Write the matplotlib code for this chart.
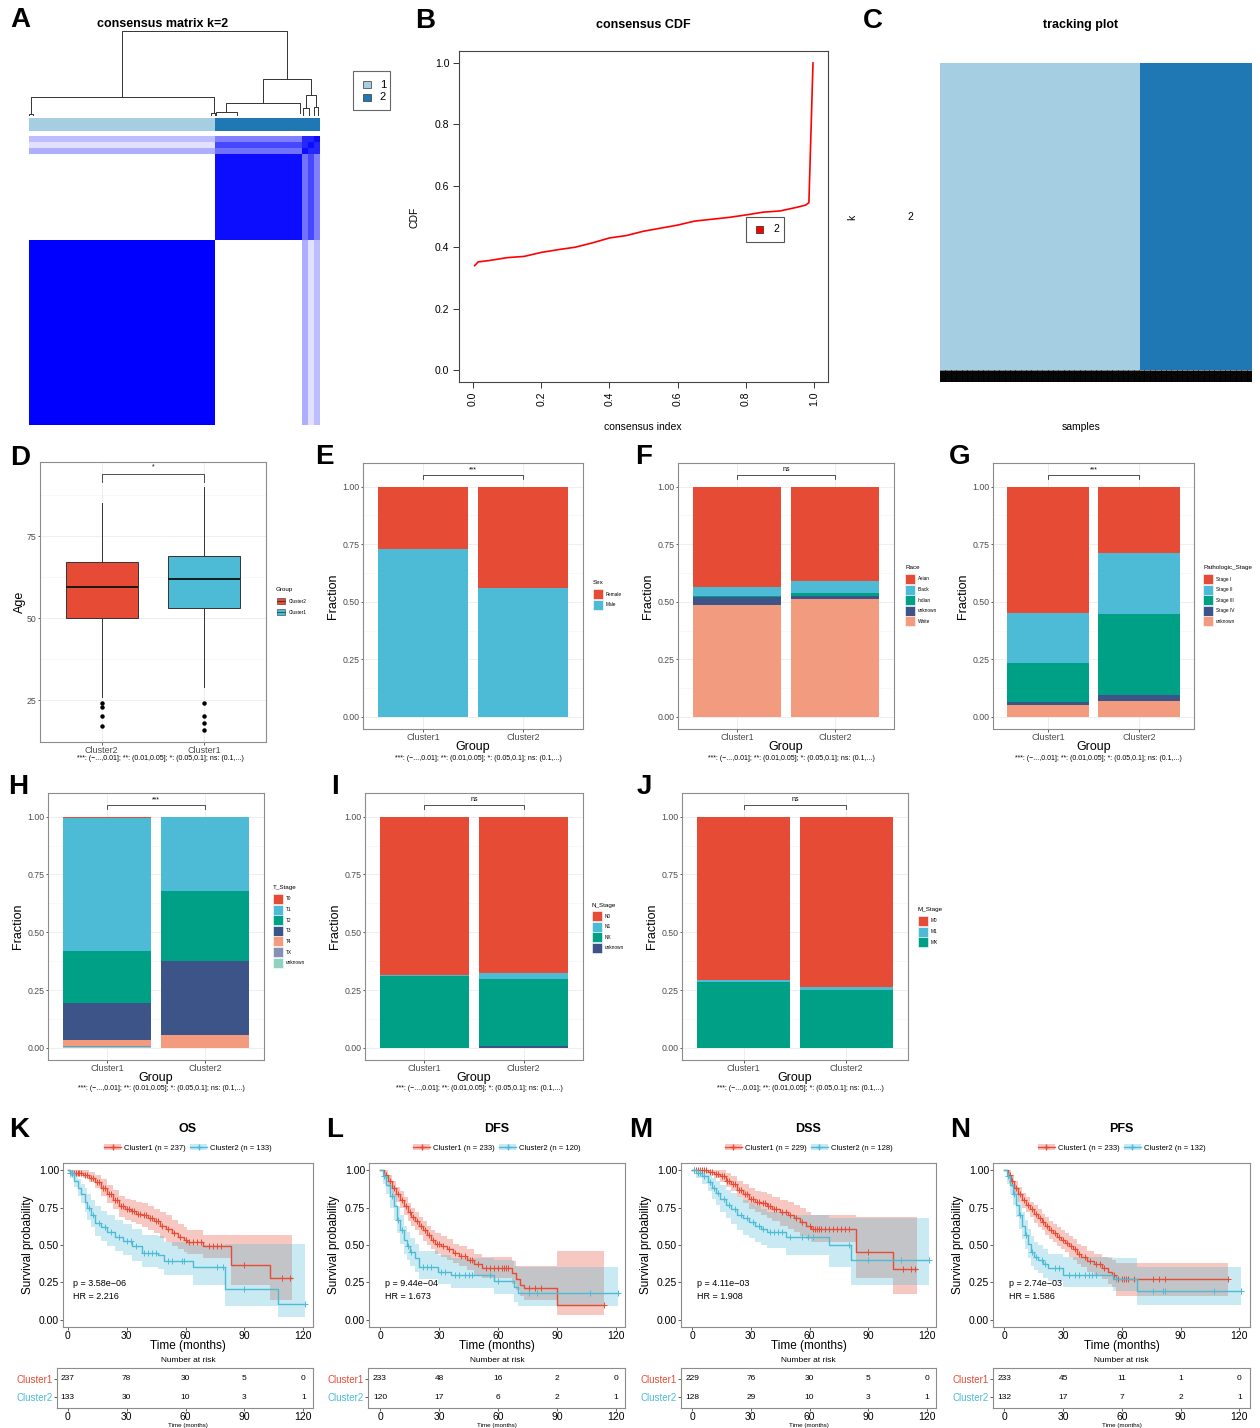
import numpy as np
import matplotlib
matplotlib.use('Agg')
import matplotlib.pyplot as plt
from matplotlib.colors import LinearSegmentedColormap, ListedColormap
from matplotlib.patches import Rectangle, Patch
from matplotlib.lines import Line2D

plt.rcParams['font.family'] = ['Liberation Sans', 'DejaVu Sans']

# ---------------- data ----------------
# consensus clustering (k=2), block structure of the consensus matrix
group_sizes = [237, 110, 8, 7, 8]
block_consensus = [[1.00, 0.00, 0.32, 0.12, 0.26],
                   [0.00, 0.95, 0.55, 0.72, 0.50],
                   [0.32, 0.55, 0.95, 0.85, 0.85],
                   [0.12, 0.72, 0.85, 0.95, 0.85],
                   [0.26, 0.50, 0.85, 0.85, 0.95]]
cluster_sizes = [237, 133]
# dendrogram links: (x_left, h_left, x_right, h_right, h_node), x in sample units
dendro_links = [(118.7, 0.22, 328.3, 0.43, 1.0),
                (2.5, 0.01, 235.0, 0.02, 0.22),
                (297.7, 0.146, 358.9, 0.234, 0.43),
                (251.0, 0.04, 344.5, 0.02, 0.146),
                (238.0, 0.0, 264.0, 0.0, 0.04),
                (352.0, 0.08, 365.0, 0.10, 0.234),
                (348.0, 0.0, 356.0, 0.0, 0.08),
                (362.0, 0.0, 368.0, 0.0, 0.10),
                (0.5, 0.0, 4.5, 0.0, 0.01),
                (232.0, 0.0, 237.0, 0.0, 0.02)]

cdf_x = [0.005, 0.015, 0.05, 0.10, 0.15, 0.20, 0.25, 0.30, 0.35, 0.40, 0.45, 0.50,
         0.55, 0.60, 0.65, 0.70, 0.75, 0.80, 0.85, 0.90, 0.95, 0.975, 0.985, 0.997]
cdf_y = [0.340, 0.352, 0.357, 0.366, 0.370, 0.383, 0.392, 0.400, 0.414, 0.430, 0.438, 0.452,
         0.462, 0.472, 0.485, 0.491, 0.497, 0.505, 0.514, 0.518, 0.530, 0.537, 0.545, 1.0]

# age boxplot
age_groups = ['Cluster2', 'Cluster1']
age_med = [59.5, 62.0]
age_q1 = [50.0, 53.0]
age_q3 = [67.2, 69.0]
age_lo = [26.0, 29.0]
age_hi = [85.0, 90.0]
age_out = [[24, 23, 20, 17], [24, 20, 18, 16]]

groups = ['Cluster1', 'Cluster2']
sex_levels = ['Female', 'Male']
sex_c1 = [0.27, 0.73]
sex_c2 = [0.44, 0.56]
race_levels = ['Asian', 'Black', 'Indian', 'unknown', 'White']
race_c1 = [0.435, 0.040, 0.005, 0.032, 0.488]
race_c2 = [0.408, 0.055, 0.010, 0.015, 0.512]
stage_levels = ['Stage I', 'Stage II', 'Stage III', 'Stage IV', 'unknown']
stage_c1 = [0.550, 0.218, 0.167, 0.012, 0.053]
stage_c2 = [0.290, 0.263, 0.352, 0.024, 0.071]
t_levels = ['T0', 'T1', 'T2', 'T3', 'T4', 'TX', 'unknown']
t_c1 = [0.005, 0.574, 0.226, 0.162, 0.023, 0.006, 0.004]
t_c2 = [0.0, 0.320, 0.305, 0.320, 0.055, 0.0, 0.0]
n_levels = ['N0', 'N1', 'NX', 'unknown']
n_c1 = [0.684, 0.004, 0.312, 0.0]
n_c2 = [0.675, 0.025, 0.292, 0.008]
m_levels = ['M0', 'M1', 'MX']
m_c1 = [0.708, 0.007, 0.285]
m_c2 = [0.735, 0.015, 0.250]

# Kaplan-Meier curves (step starts, survival, CI), end time, censor times
os_c1_t = [0, 1, 8, 11, 14, 17, 20, 23, 26, 29, 32, 35, 38, 41, 44, 47, 50, 53, 56, 59, 61, 69, 83, 103]
os_c1_s = [1.0, 0.98, 0.97, 0.95, 0.92, 0.88, 0.84, 0.80, 0.76, 0.74, 0.725, 0.71, 0.70, 0.68, 0.66, 0.63, 0.61, 0.58, 0.555, 0.535, 0.52, 0.49, 0.365, 0.28]
os_c1_hi = [1.0, 1.0, 1.0, 0.99, 0.97, 0.94, 0.90, 0.87, 0.83, 0.81, 0.80, 0.79, 0.78, 0.76, 0.74, 0.72, 0.70, 0.67, 0.64, 0.62, 0.60, 0.57, 0.57, 0.57]
os_c1_lo = [1.0, 0.96, 0.95, 0.92, 0.88, 0.83, 0.78, 0.74, 0.69, 0.67, 0.655, 0.64, 0.62, 0.60, 0.58, 0.55, 0.52, 0.49, 0.47, 0.45, 0.44, 0.41, 0.23, 0.13]
os_c1_end = 114
os_c1_cens = [2, 3, 4, 5, 6, 7, 9, 10, 12, 13, 15, 16, 18, 19, 21, 22, 24, 25, 27, 28, 30, 31, 33, 34, 36, 37, 39, 40, 42, 43,
              45, 46, 48, 51, 54, 57, 60, 62, 64, 66, 68, 72, 74, 76, 78, 90, 109, 113]
os_c2_t = [0, 1, 3, 5, 7, 9, 10, 12, 14, 17, 20, 24, 28, 33, 38, 46, 49, 64, 80, 107]
os_c2_s = [1.0, 0.98, 0.93, 0.88, 0.84, 0.79, 0.75, 0.70, 0.65, 0.62, 0.585, 0.555, 0.525, 0.49, 0.445, 0.435, 0.39, 0.35, 0.205, 0.105]
os_c2_hi = [1.0, 1.0, 0.98, 0.94, 0.91, 0.88, 0.84, 0.80, 0.76, 0.73, 0.70, 0.67, 0.64, 0.61, 0.57, 0.56, 0.52, 0.50, 0.51, 0.51]
os_c2_lo = [1.0, 0.95, 0.89, 0.83, 0.78, 0.72, 0.67, 0.62, 0.56, 0.53, 0.49, 0.46, 0.43, 0.39, 0.35, 0.34, 0.30, 0.23, 0.09, 0.02]
os_c2_end = 121
os_c2_cens = [1, 2, 11, 13, 16, 19, 22, 26, 30, 32, 35, 39, 41, 43, 45, 51, 53, 58, 59, 76, 79, 90, 121]

dfs_c1_t = [0, 2, 4, 6, 8, 10, 12, 14, 16, 18, 20, 22, 24, 26, 28, 31, 34, 37, 40, 44, 48, 52, 67, 69, 71, 73, 90]
dfs_c1_s = [1.0, 0.97, 0.93, 0.88, 0.84, 0.80, 0.76, 0.72, 0.69, 0.66, 0.63, 0.60, 0.565, 0.535, 0.51, 0.49, 0.47, 0.445, 0.425, 0.40, 0.37, 0.345, 0.31, 0.27, 0.235, 0.21, 0.10]
dfs_c1_hi = [1.0, 1.0, 0.97, 0.93, 0.89, 0.86, 0.82, 0.78, 0.75, 0.72, 0.69, 0.66, 0.63, 0.60, 0.58, 0.56, 0.54, 0.51, 0.49, 0.47, 0.44, 0.42, 0.39, 0.36, 0.36, 0.36, 0.46]
dfs_c1_lo = [1.0, 0.94, 0.89, 0.83, 0.79, 0.75, 0.70, 0.66, 0.63, 0.60, 0.57, 0.53, 0.50, 0.47, 0.44, 0.42, 0.40, 0.38, 0.36, 0.33, 0.30, 0.28, 0.24, 0.20, 0.16, 0.13, 0.03]
dfs_c1_end = 114
dfs_c1_cens = [3, 5, 7, 9, 11, 13, 15, 17, 19, 21, 23, 25, 27, 29, 30, 32, 35, 38, 41, 43, 46, 47, 50, 54, 56, 58, 60, 62,
               63, 64, 65, 76, 79, 82, 114]
dfs_c2_t = [0, 1.5, 3, 5, 7, 8.5, 10, 12, 13.5, 15, 18, 20, 29.5, 36, 58, 68, 70]
dfs_c2_s = [1.0, 0.96, 0.90, 0.83, 0.76, 0.67, 0.60, 0.535, 0.49, 0.455, 0.41, 0.355, 0.32, 0.30, 0.26, 0.22, 0.175]
dfs_c2_hi = [1.0, 1.0, 0.96, 0.90, 0.84, 0.76, 0.70, 0.63, 0.59, 0.55, 0.51, 0.46, 0.43, 0.41, 0.40, 0.36, 0.35]
dfs_c2_lo = [1.0, 0.91, 0.84, 0.75, 0.67, 0.58, 0.51, 0.44, 0.40, 0.36, 0.32, 0.27, 0.24, 0.21, 0.17, 0.12, 0.09]
dfs_c2_end = 121
dfs_c2_cens = [2, 6, 9, 11, 14, 16, 22, 24, 26, 31, 33, 38, 40, 43, 45, 47, 56, 60, 76, 80, 107, 121]

dss_c1_t = [0, 8, 11, 14, 17, 20, 23, 26, 29, 32, 35, 38, 41, 45, 49, 52, 55, 58, 61, 84, 103]
dss_c1_s = [1.0, 0.99, 0.975, 0.96, 0.93, 0.91, 0.87, 0.84, 0.81, 0.79, 0.78, 0.76, 0.74, 0.72, 0.70, 0.68, 0.655, 0.63, 0.605, 0.455, 0.34]
dss_c1_hi = [1.0, 1.0, 1.0, 1.0, 0.98, 0.96, 0.93, 0.91, 0.88, 0.86, 0.855, 0.84, 0.82, 0.80, 0.79, 0.77, 0.75, 0.72, 0.70, 0.69, 0.69]
dss_c1_lo = [1.0, 0.98, 0.95, 0.92, 0.89, 0.86, 0.82, 0.78, 0.74, 0.72, 0.70, 0.68, 0.66, 0.63, 0.61, 0.59, 0.56, 0.54, 0.52, 0.28, 0.17]
dss_c1_end = 115
dss_c1_cens = [1, 2, 3, 4, 5, 6, 7, 9, 10, 12, 13, 15, 16, 18, 19, 21, 22, 24, 25, 27, 28, 30, 31, 33, 34, 36, 37, 39, 40,
               42, 43, 46, 48, 50, 53, 56, 60, 62, 63, 64, 65, 66, 68, 70, 72, 74, 76, 78, 80, 90, 108, 112, 114]
dss_c2_t = [0, 2, 5, 8, 10, 12, 14, 17, 20, 23, 26, 29, 32, 35, 38, 48, 70, 81]
dss_c2_s = [1.0, 0.98, 0.96, 0.92, 0.88, 0.85, 0.81, 0.77, 0.74, 0.70, 0.68, 0.655, 0.625, 0.61, 0.59, 0.555, 0.50, 0.40]
dss_c2_hi = [1.0, 1.0, 1.0, 0.98, 0.95, 0.93, 0.90, 0.87, 0.85, 0.82, 0.80, 0.78, 0.76, 0.74, 0.72, 0.70, 0.68, 0.68]
dss_c2_lo = [1.0, 0.95, 0.91, 0.86, 0.81, 0.77, 0.72, 0.68, 0.64, 0.60, 0.57, 0.55, 0.52, 0.50, 0.48, 0.43, 0.35, 0.23]
dss_c2_end = 121
dss_c2_cens = [1, 3, 4, 6, 9, 11, 13, 16, 19, 22, 25, 28, 31, 34, 36, 40, 42, 44, 46, 50, 56, 59, 62, 80, 90, 107, 121]

pfs_c1_t = [0, 2, 3.5, 5, 7, 9, 11, 13, 15, 17, 19, 21, 23, 25, 27, 29, 31, 33, 35, 37, 39, 42, 46, 50, 53, 55, 57]
pfs_c1_s = [1.0, 0.97, 0.93, 0.88, 0.84, 0.80, 0.77, 0.74, 0.71, 0.68, 0.655, 0.63, 0.60, 0.58, 0.555, 0.535, 0.515, 0.49, 0.47, 0.44, 0.42, 0.39, 0.37, 0.345, 0.32, 0.30, 0.27]
pfs_c1_hi = [1.0, 1.0, 0.97, 0.93, 0.89, 0.85, 0.82, 0.79, 0.77, 0.74, 0.71, 0.69, 0.66, 0.64, 0.62, 0.60, 0.58, 0.56, 0.54, 0.51, 0.49, 0.46, 0.44, 0.42, 0.41, 0.40, 0.38]
pfs_c1_lo = [1.0, 0.94, 0.89, 0.84, 0.79, 0.75, 0.72, 0.69, 0.65, 0.62, 0.60, 0.57, 0.54, 0.52, 0.49, 0.47, 0.45, 0.42, 0.40, 0.37, 0.35, 0.32, 0.30, 0.27, 0.24, 0.22, 0.16]
pfs_c1_end = 114
pfs_c1_cens = [3, 4, 6, 8, 10, 12, 14, 16, 18, 20, 22, 24, 26, 28, 30, 32, 34, 36, 38, 41, 44, 47, 49, 51, 56, 58, 60, 61,
               62, 63, 66, 76, 79, 82, 114]
pfs_c2_t = [0, 1.5, 3, 4.5, 6, 7.5, 9, 10.5, 12, 13.5, 15, 17, 20, 22.5, 30, 55.5, 68]
pfs_c2_s = [1.0, 0.96, 0.90, 0.84, 0.77, 0.70, 0.63, 0.57, 0.51, 0.455, 0.42, 0.40, 0.37, 0.345, 0.30, 0.275, 0.19]
pfs_c2_hi = [1.0, 1.0, 0.96, 0.91, 0.85, 0.79, 0.72, 0.67, 0.61, 0.56, 0.52, 0.50, 0.47, 0.44, 0.42, 0.41, 0.35]
pfs_c2_lo = [1.0, 0.91, 0.84, 0.77, 0.69, 0.61, 0.54, 0.47, 0.41, 0.36, 0.33, 0.31, 0.28, 0.26, 0.22, 0.19, 0.10]
pfs_c2_end = 121
pfs_c2_cens = [2, 5, 8, 11, 14, 16, 19, 21, 26, 28, 33, 36, 38, 41, 43, 45, 47, 57, 76, 81, 82, 107, 121]

risk_times = [0, 30, 60, 90, 120]
os_risk = [[237, 78, 30, 5, 0], [133, 30, 10, 3, 1]]
dfs_risk = [[233, 48, 16, 2, 0], [120, 17, 6, 2, 1]]
dss_risk = [[229, 76, 30, 5, 0], [128, 29, 10, 3, 1]]
pfs_risk = [[233, 45, 11, 1, 0], [132, 17, 7, 2, 1]]
km_titles = ['OS', 'DFS', 'DSS', 'PFS']
km_n = [(237, 133), (233, 120), (229, 128), (233, 132)]
km_p = ['p = 3.58e\u221206', 'p = 9.44e\u221204', 'p = 4.11e\u221203', 'p = 2.74e\u221203']
km_hr = ['HR = 2.216', 'HR = 1.673', 'HR = 1.908', 'HR = 1.586']

RED, BLUE, GREEN, NAVY = '#E64B35', '#4DBBD5', '#00A087', '#3C5488'
SALMON, LAV, MINT = '#F39B7F', '#8491B4', '#91D1C2'
NPG = [RED, BLUE, GREEN, NAVY, SALMON, LAV, MINT]
CAPTION = '***: (\u2212...,0.01]; **: (0.01,0.05]; *: (0.05,0.1]; ns: (0.1,...)'

# ---------------- figure helpers ----------------
W, H = 1260, 1428
fig = plt.figure(figsize=(W / 100, H / 100), dpi=100)


def box(x0, y0, x1, y1):
    return fig.add_axes([x0 / W, 1 - y1 / H, (x1 - x0) / W, (y1 - y0) / H])


def ftext(x, y, s, **kw):
    kw.setdefault('ha', 'center')
    kw.setdefault('va', 'center')
    return fig.text(x / W, 1 - y / H, s, **kw)


def frect(x, y, w, h, **kw):
    fig.add_artist(Rectangle((x / W, 1 - (y + h) / H), w / W, h / H, transform=fig.transFigure, **kw))


for lab, (x, y) in zip('ABCDEFGHIJKLMN',
                       [(20, 20), (425, 21), (873, 21), (20, 458), (324, 457), (644, 457), (960, 457),
                        (18, 787), (335, 787), (644, 787), (19, 1130), (335, 1130), (641, 1130), (960, 1130)]):
    ftext(x, y, lab, fontsize=20, fontweight='bold')

# ---------------- A: consensus matrix ----------------
cons = np.repeat(np.repeat(np.array(block_consensus), group_sizes, axis=0), group_sizes, axis=1)
n_samp = cons.shape[0]
axA = box(29, 136, 320, 425)
axA.imshow(cons, cmap=LinearSegmentedColormap.from_list('wb', ['white', 'blue']), vmin=0, vmax=1,
           origin='lower', aspect='auto', interpolation='nearest', extent=(0, n_samp, 0, n_samp))
axA.axis('off')
clusters = np.repeat([0, 1], cluster_sizes)
axAc = box(29, 118, 320, 131)
axAc.imshow(clusters[None, :], cmap=ListedColormap(['#A6CEE3', '#1F78B4']), aspect='auto',
            interpolation='nearest', extent=(0, n_samp, 0, 1))
axAc.axis('off')
axAd = box(29, 31, 320, 115)
for xl, hl, xr, hr, hn in dendro_links:
    axAd.plot([xl, xl, xr, xr], [hl, hn, hn, hr], color='#333333', lw=0.7, clip_on=False)
axAd.set_xlim(0, n_samp)
axAd.set_ylim(0, 1)
axAd.axis('off')
ftext(163, 24, 'consensus matrix k=2', fontsize=9, fontweight='bold')
frect(353, 71, 37, 39, fill=False, ec='#666666', lw=0.8)
frect(363, 81, 8, 7, fc='#A6CEE3', ec='#333333', lw=0.5)
frect(363, 94, 8, 7, fc='#1F78B4', ec='#333333', lw=0.5)
ftext(383, 84.5, '1', fontsize=8)
ftext(383, 97.5, '2', fontsize=8)

# ---------------- B: consensus CDF ----------------
axB = box(459, 51, 828, 382)
axB.plot(cdf_x, cdf_y, color='#FF0000', lw=1.2)
axB.set_xlim(-0.041, 1.041)
axB.set_ylim(-0.039, 1.039)
ticksB = [0.0, 0.2, 0.4, 0.6, 0.8, 1.0]
axB.set_xticks(ticksB)
axB.set_xticklabels(['%.1f' % v for v in ticksB], rotation=90)
axB.set_yticks(ticksB)
axB.set_yticklabels(['%.1f' % v for v in ticksB])
axB.tick_params(length=4, width=0.7, labelsize=7.5, color='#333333', pad=3)
for sp in axB.spines.values():
    sp.set_color('#444444')
    sp.set_linewidth(0.8)
ftext(643, 25, 'consensus CDF', fontsize=9, fontweight='bold')
ftext(415, 217, 'CDF', fontsize=7.5, rotation=90)
ftext(643, 427, 'consensus index', fontsize=7.5)
frect(746, 217, 38, 25, fc='white', ec='#555555', lw=0.8)
frect(756, 226, 7, 7, fc='#FF0000', ec='#222222', lw=0.5)
ftext(776, 229.5, '2', fontsize=7.5)

# ---------------- C: tracking plot ----------------
axC = box(940, 63, 1252, 370)
axC.imshow(clusters[None, :], cmap=ListedColormap(['#A6CEE3', '#1F78B4']), aspect='auto',
           interpolation='nearest', extent=(0, n_samp, 0, 1))
axC.axis('off')
axCr = box(940, 370, 1252, 382)
axCr.vlines(np.arange(n_samp) + 0.5, 0, 1, color='black', lw=0.7)
axCr.set_xlim(0, n_samp)
axCr.set_ylim(0, 1)
axCr.axis('off')
ftext(1081, 25, 'tracking plot', fontsize=9, fontweight='bold')
ftext(852, 217, 'k', fontsize=7.5, rotation=90)
ftext(910, 217, '2', fontsize=7.5)
ftext(1081, 427, 'samples', fontsize=7.5)


# ---------------- ggplot-like panels ----------------
def gg_style(ax):
    for sp in ax.spines.values():
        sp.set_color('#8c8c8c')
        sp.set_linewidth(0.8)
    ax.tick_params(length=1.8, width=0.6, color='#444444', labelsize=6.3, labelcolor='#4d4d4d', pad=0.8)
    ax.tick_params(which='minor', length=0)
    ax.grid(True, which='major', color='#ebebeb', lw=0.6)
    ax.grid(True, which='minor', axis='y', color='#f3f3f3', lw=0.4)
    ax.set_axisbelow(True)


def legend_block(x, y, title, labels, colors):
    ftext(x, y, title, fontsize=4.5, ha='left')
    for i, (lab, col) in enumerate(zip(labels, colors)):
        yc = y + 11 + 10.6 * i
        frect(x, yc - 5, 10, 10, fc=col, ec='white', lw=0.4)
        ftext(x + 13, yc, lab, fontsize=3.4, ha='left')


def bracket(ax, y, drop, label, fs=5):
    ax.plot([1, 1, 2, 2], [y - drop, y, y, y - drop], color='#333333', lw=0.6)
    ax.text(1.5, y + drop * 0.6, label, ha='center', va='bottom', fontsize=fs)


# D: age boxplot
axD = box(40, 462, 266, 742)
stats = [dict(med=age_med[i], q1=age_q1[i], q3=age_q3[i], whislo=age_lo[i], whishi=age_hi[i],
              fliers=age_out[i], label=age_groups[i]) for i in range(2)]
bp = axD.bxp(stats, positions=[1, 2], widths=0.7, patch_artist=True, showcaps=False,
             medianprops=dict(color='#111111', lw=1.3),
             whiskerprops=dict(color='#333333', lw=0.7),
             flierprops=dict(marker='o', markersize=2.2, markerfacecolor='black', markeredgecolor='black'),
             boxprops=dict(edgecolor='#333333', lw=0.7))
for patch, col in zip(bp['boxes'], [RED, BLUE]):
    patch.set_facecolor(col)
axD.set_xlim(0.4, 2.6)
axD.set_ylim(12.2, 97.6)
axD.set_yticks([25, 50, 75])
axD.set_yticks([37.5, 62.5, 87.5], minor=True)
gg_style(axD)
axD.tick_params(axis='x', labelsize=6.5)
bracket(axD, 93.8, 2.2, '*', fs=5)
ftext(20, 602, 'Age', fontsize=9, rotation=90)
ftext(160, 758, CAPTION, fontsize=5)
ftext(276, 590, 'Group', fontsize=4.5, ha='left')
for i, (lab, col) in enumerate(zip(['Cluster2', 'Cluster1'], [RED, BLUE])):
    yc = 601 + 11 * i
    frect(277, yc - 3, 8, 6, fc=col, ec='#333333', lw=0.4)
    fig.add_artist(Line2D([277 / W, 285 / W], [1 - yc / H, 1 - yc / H], color='#111111', lw=0.4))
    ftext(289, yc, lab, fontsize=3.4, ha='left')


def bar_panel(bx, levels, c1, c2, colors, sig, title, leg_xy):
    ax = box(*bx)
    b1, b2 = 0.0, 0.0
    for lev, v1, v2, col in reversed(list(zip(levels, c1, c2, colors))):
        ax.bar([1, 2], [v1, v2], bottom=[b1, b2], width=0.9, color=col, lw=0)
        b1 += v1
        b2 += v2
    ax.set_xlim(0.4, 2.6)
    ax.set_ylim(-0.0525, 1.1025)
    ax.set_xticks([1, 2])
    ax.set_xticklabels(groups)
    ax.set_yticks([0, 0.25, 0.5, 0.75, 1.0])
    ax.set_yticklabels(['0.00', '0.25', '0.50', '0.75', '1.00'])
    ax.set_yticks([0.125, 0.375, 0.625, 0.875], minor=True)
    gg_style(ax)
    ax.tick_params(axis='x', labelsize=6.5)
    bracket(ax, 1.05, 0.015, sig)
    x0, y0, x1, y1 = bx
    ftext(x0 - 30, (y0 + y1) / 2, 'Fraction', fontsize=9, rotation=90)
    ftext((x0 + x1) / 2, y1 + 18, 'Group', fontsize=9)
    ftext((x0 + x1) / 2 + 5, y1 + 29, CAPTION, fontsize=5)
    legend_block(leg_xy[0], leg_xy[1], title, levels, colors)


bar_panel((363, 463, 583, 729), sex_levels, sex_c1, sex_c2, [RED, BLUE], '***', 'Sex', (593, 583))
bar_panel((678, 463, 894, 729), race_levels, race_c1, race_c2, NPG[:5], 'ns', 'Race', (905, 568))
bar_panel((993, 463, 1194, 729), stage_levels, stage_c1, stage_c2, NPG[:5], '***', 'Pathologic_Stage', (1203, 568))
bar_panel((48, 793, 264, 1060), t_levels, t_c1, t_c2, NPG[:7], '***', 'T_Stage', (273, 888))
bar_panel((365, 793, 583, 1060), n_levels, n_c1, n_c2, NPG[:4], 'ns', 'N_Stage', (592, 905))
bar_panel((682, 793, 908, 1060), m_levels, m_c1, m_c2, NPG[:3], 'ns', 'M_Stage', (918, 910))

# ---------------- K-N: Kaplan-Meier ----------------
km_curves = [
    [(os_c1_t, os_c1_s, os_c1_lo, os_c1_hi, os_c1_end, os_c1_cens),
     (os_c2_t, os_c2_s, os_c2_lo, os_c2_hi, os_c2_end, os_c2_cens)],
    [(dfs_c1_t, dfs_c1_s, dfs_c1_lo, dfs_c1_hi, dfs_c1_end, dfs_c1_cens),
     (dfs_c2_t, dfs_c2_s, dfs_c2_lo, dfs_c2_hi, dfs_c2_end, dfs_c2_cens)],
    [(dss_c1_t, dss_c1_s, dss_c1_lo, dss_c1_hi, dss_c1_end, dss_c1_cens),
     (dss_c2_t, dss_c2_s, dss_c2_lo, dss_c2_hi, dss_c2_end, dss_c2_cens)],
    [(pfs_c1_t, pfs_c1_s, pfs_c1_lo, pfs_c1_hi, pfs_c1_end, pfs_c1_cens),
     (pfs_c2_t, pfs_c2_s, pfs_c2_lo, pfs_c2_hi, pfs_c2_end, pfs_c2_cens)]]
km_risk = [os_risk, dfs_risk, dss_risk, pfs_risk]
# (main panel left, right, pixel of t=0, pixel of t=120, table left)
km_geom = [(63, 313, 67.7, 303.3, 57), (369, 625, 380, 616, 368),
           (681, 936, 692.3, 926.7, 681), (993, 1250, 1004.3, 1239.3, 993)]

for k in range(4):
    xl, xr, p0, p120, tl = km_geom[k]
    sc = (p120 - p0) / 120.0
    ax = box(xl, 1163, xr, 1327)
    for (t, s, lo, hi, end, cens), col in zip(km_curves[k], [RED, BLUE]):
        tt = np.append(t, end)
        ax.fill_between(tt, np.append(lo, lo[-1]), np.append(hi, hi[-1]), step='post', color=col, alpha=0.3, lw=0)
        ax.step(tt, np.append(s, s[-1]), where='post', color=col, lw=1.0)
        idx = np.searchsorted(t, cens, side='right') - 1
        ax.plot(cens, np.array(s)[idx], ls='none', marker='+', color=col, markersize=4, mew=0.7)
    ax.set_xlim(-(p0 - xl) / sc, 120 + (xr - p120) / sc)
    ax.set_ylim(-0.05, 1.05)
    ax.set_xticks(risk_times)
    ax.set_yticks([0, 0.25, 0.5, 0.75, 1.0])
    ax.set_yticklabels(['0.00', '0.25', '0.50', '0.75', '1.00'])
    for sp in ax.spines.values():
        sp.set_color('#8c8c8c')
        sp.set_linewidth(0.8)
    ax.tick_params(length=2, width=0.6, color='#444444', labelsize=7.5, pad=0.8)
    ax.text(2.5, 0.24, km_p[k], fontsize=6.5, ha='left', va='center')
    ax.text(2.5, 0.155, km_hr[k], fontsize=6.5, ha='left', va='center')
    cx = (xl + xr) / 2
    ftext(cx, 1129, km_titles[k], fontsize=9, fontweight='bold')
    ftext(cx, 1346, 'Time (months)', fontsize=8.5)
    ftext(xl - 35, 1245, 'Survival probability', fontsize=8.5, rotation=90)
    handles = [(Patch(fc=c, alpha=0.3, lw=0), Line2D([], [], color=c, lw=1, marker='+', markersize=4))
               for c in [RED, BLUE]]
    ax.legend(handles, ['Cluster1 (n = %d)' % km_n[k][0], 'Cluster2 (n = %d)' % km_n[k][1]], ncol=2,
              loc='center', bbox_to_anchor=(cx / W, 1 - 1148 / H), bbox_transform=fig.transFigure,
              frameon=False, fontsize=5.5, handlelength=2.2, handletextpad=0.4, columnspacing=0.6,
              borderpad=0)
    # risk table
    axt = box(tl, 1368, xr, 1408)
    for r, (row, col) in enumerate(zip(km_risk[k], [RED, BLUE])):
        for tm, nr in zip(risk_times, row):
            axt.text(tm, 2 - r, str(nr), ha='center', va='center', fontsize=6)
    axt.set_xlim(-(p0 - tl) / sc, 120 + (xr - p120) / sc)
    axt.set_ylim(0.39, 2.61)
    axt.set_xticks(risk_times)
    axt.set_yticks([2, 1])
    axt.set_yticklabels(['Cluster1', 'Cluster2'])
    for lab, col in zip(axt.get_yticklabels(), [RED, BLUE]):
        lab.set_color(col)
    for sp in axt.spines.values():
        sp.set_color('#8c8c8c')
        sp.set_linewidth(0.8)
    axt.tick_params(length=2, width=0.6, color='#444444', pad=0.8)
    axt.tick_params(axis='x', labelsize=7.5)
    axt.tick_params(axis='y', labelsize=7)
    ftext(cx, 1361, 'Number at risk', fontsize=6)
    ftext(cx, 1425.5, 'Time (months)', fontsize=4.5)

fig.savefig('out.png', dpi=100, facecolor='white')
